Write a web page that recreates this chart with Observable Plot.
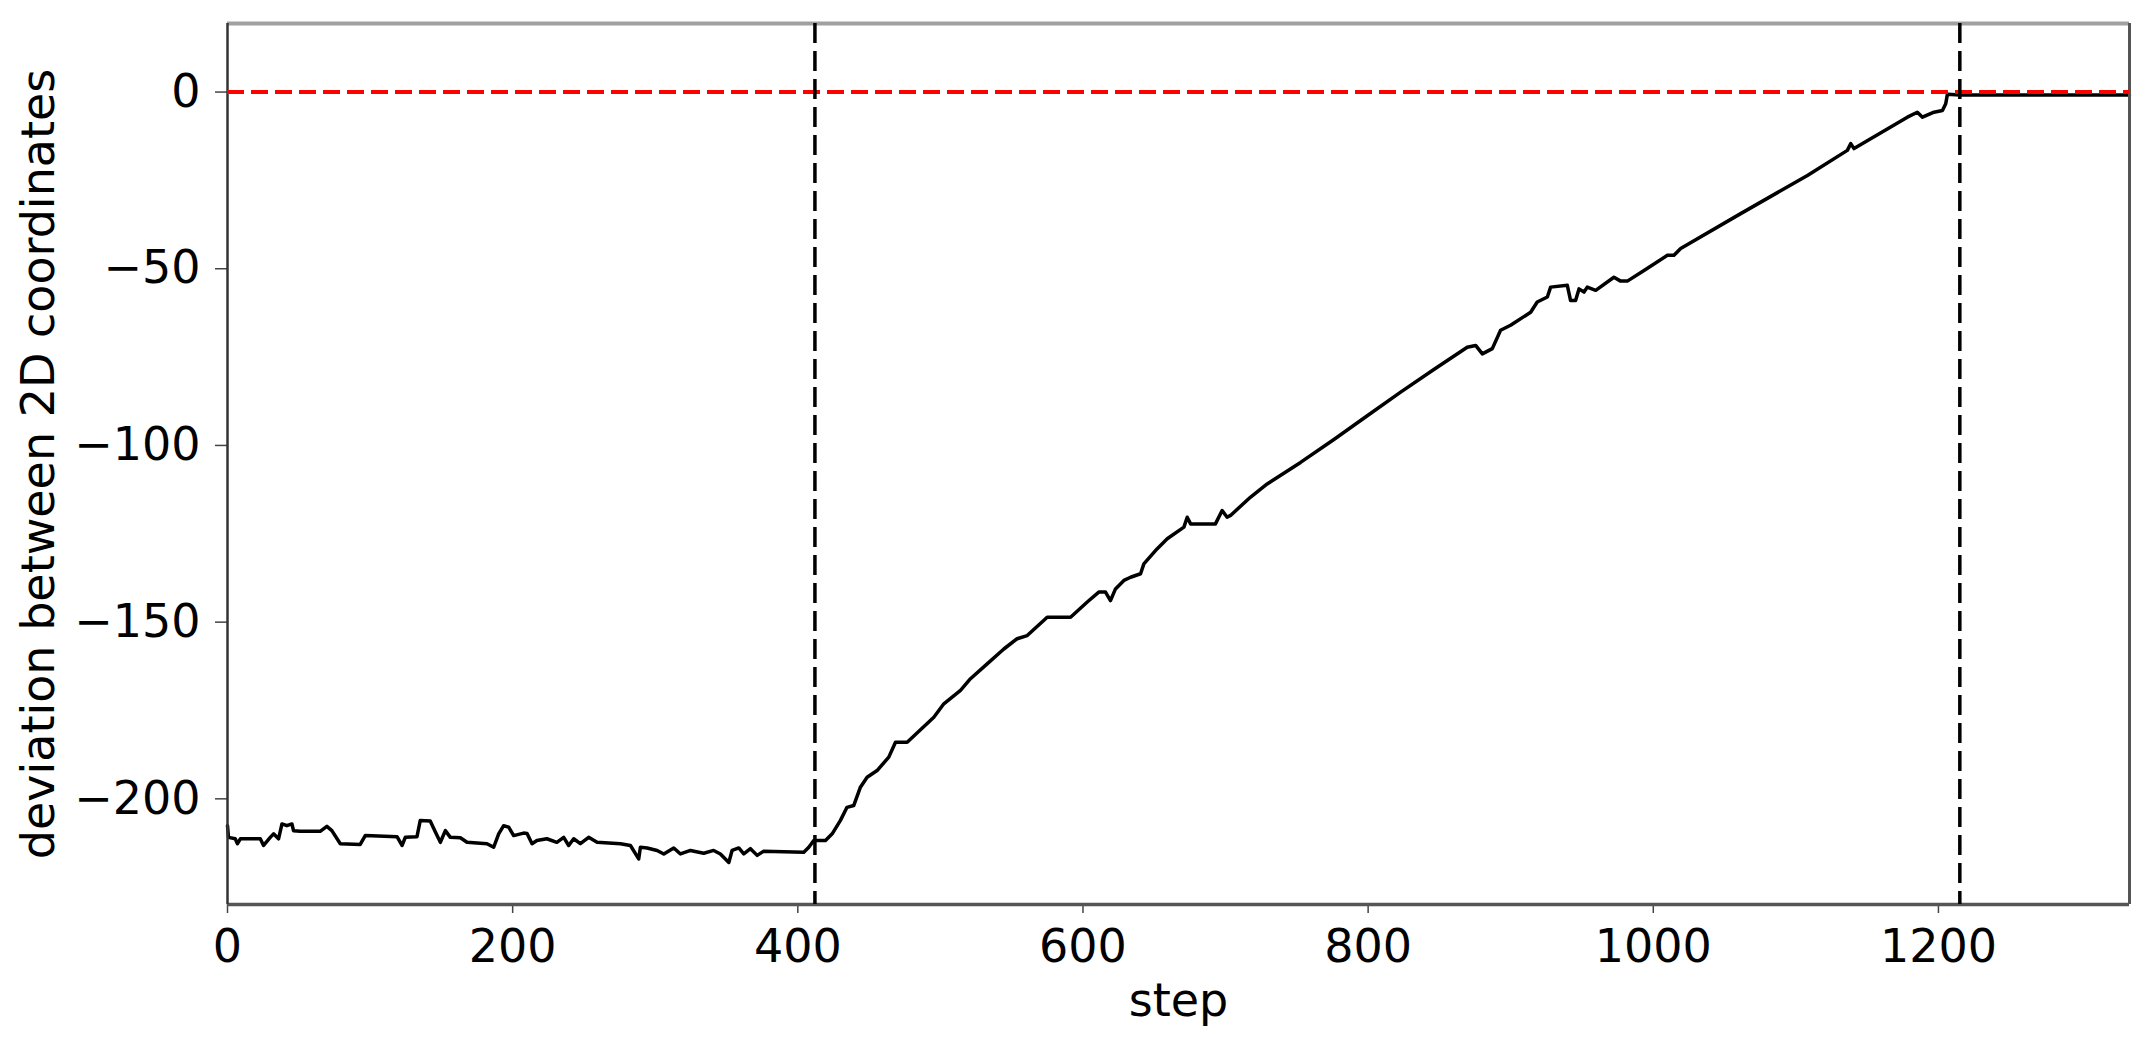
<!DOCTYPE html>
<html><head><meta charset="utf-8">
<script src="https://cdn.jsdelivr.net/npm/d3@7"></script>
<script src="https://cdn.jsdelivr.net/npm/@observablehq/plot@0.6"></script>
<style>html,body{margin:0;padding:0;background:#fff;} svg{display:block;}</style>
</head><body><div id="chart"></div>
<script>
const steps = [0,0.7,5.4,7,9,23,25.3,30,32.3,35.8,38.2,41.6,45.2,46.3,51,65,69.7,73.2,79.1,93.1,96.6,118.9,122.4,124.7,132.9,135.2,142.2,145.8,149.3,152.8,156.3,163.3,168,182,186.7,190.2,193.7,197.2,200.7,207.7,210.1,213.6,217,224,231,235.8,239.3,242.8,247.5,253.3,259.2,275.6,282.6,288.4,289.6,294.3,301.3,306,313,317.7,324.7,334,341,345.7,351.6,353.9,358.6,362.1,366.8,371.5,376.1,404.2,407.7,411.2,419.4,424.1,429.9,434.5,439.2,443.9,448.6,455.6,463.8,468.5,476.7,495.4,502.4,514.1,521.1,532.8,544.5,553.8,560.9,574.9,591.3,603,611.1,615.8,619.3,622.8,628.7,633.4,640.4,642.7,652.1,659.1,670.8,673.1,675.5,692.9,697.6,701.1,703.5,717.6,729.2,752.6,776,799.4,822.8,846.1,869.5,875.4,880.1,887.1,892.9,899.9,914,918.6,925.7,928,939.7,942,945.5,947.9,951.4,953.7,959.6,972.4,977.1,981.8,993.5,1009.9,1014.5,1019.2,1061.3,1108.1,1136.1,1138.5,1140.8,1178.2,1185.2,1188.8,1196.9,1202.8,1205.1,1206.3,1215,1334];
const deviation = [-207.6,-210.9,-211.3,-212.7,-211.3,-211.3,-213.2,-210.9,-209.9,-211.3,-207.1,-207.6,-207.1,-209,-209.2,-209.2,-207.8,-209,-212.7,-212.9,-210.4,-210.7,-213.2,-210.9,-210.7,-206.1,-206.3,-209.4,-212.3,-209,-210.9,-211,-212.3,-212.7,-213.7,-209.9,-207.6,-208,-210.4,-209.7,-209.8,-212.7,-211.8,-211.3,-212.3,-210.9,-213.2,-211.3,-212.7,-210.9,-212.3,-212.7,-213.2,-217,-213.7,-213.9,-214.6,-215.6,-213.9,-215.6,-214.6,-215.4,-214.6,-215.6,-218,-214.6,-213.9,-215.6,-214.1,-216,-214.8,-215.1,-213.7,-211.8,-211.8,-209.9,-206.1,-202.4,-201.9,-196.7,-193.9,-192,-188.2,-184,-184,-176.9,-173.1,-169.3,-166,-161.8,-157.6,-154.7,-153.8,-148.6,-148.6,-144.3,-141.5,-141.5,-143.9,-140.6,-138.2,-137.3,-136.3,-133.5,-129.2,-126.4,-123.1,-120.3,-122.2,-122.2,-118.4,-120.3,-119.8,-114.6,-110.9,-104.8,-98.3,-91.6,-84.9,-78.5,-72.2,-71.7,-74.1,-72.6,-67.4,-66,-62.3,-59.4,-58,-55.2,-54.7,-59,-59,-55.7,-56.6,-55.2,-56.1,-52.4,-53.5,-53.5,-50.5,-46.2,-46.2,-44.3,-34.4,-23.6,-16.5,-14.6,-16,-7.1,-5.7,-7.1,-5.7,-5.2,-3.3,-0.6,-0.8,-0.8];
const markerSteps = [412, 1215];
const referenceLevel = [0];
const xTicks = [0, 200, 400, 600, 800, 1000, 1200];
const yTicks = [0, -50, -100, -150, -200];
const xLabel = "step";
const yLabel = "deviation between 2D coordinates";
const xDomain = [0, 1334];
const yDomain = [-229.9, 19.4];

const data = steps.map((s, i) => ({step: s, dev: deviation[i]}));
const fmt = d => d < 0 ? "\u2212" + Math.abs(d) : String(d);

const chart = Plot.plot({
  width: 2150, height: 1038,
  marginLeft: 227, marginRight: 21, marginTop: 23, marginBottom: 134,
  style: {fontFamily: "DejaVu Sans", fontSize: "46px", color: "#000", background: "#fff", overflow: "visible"},
  x: {domain: xDomain},
  y: {domain: yDomain},
  marks: [
    Plot.axisX({ticks: xTicks, tickSize: 9, tickPadding: 16, tickFormat: fmt, label: null, stroke: "#444", strokeWidth: 1.5, fontSize: 46}),
    Plot.axisY({ticks: yTicks, tickSize: 12, tickPadding: 15, tickFormat: fmt, label: null, stroke: "#444", strokeWidth: 1.5, fontSize: 46}),
    Plot.line(data, {x: "step", y: "dev", stroke: "#000", strokeWidth: 3.5}),
    Plot.ruleY([yDomain[1]], {stroke: "#a0a0a0", strokeWidth: 4}),
    Plot.ruleY([yDomain[0]], {stroke: "#555", strokeWidth: 3.5}),
    Plot.ruleX([xDomain[0]], {stroke: "#333", strokeWidth: 2.5}),
    Plot.ruleX([xDomain[1]], {stroke: "#555", strokeWidth: 3}),
    Plot.ruleY(referenceLevel, {stroke: "#ff0000", strokeWidth: 4, strokeDasharray: "17,7"}),
    Plot.ruleX(markerSteps, {stroke: "#000", strokeWidth: 3.5, strokeDasharray: "20,8"}),
    Plot.text([xLabel], {text: d => d, frameAnchor: "bottom", lineAnchor: "middle", textAnchor: "middle", dy: 97, fontSize: 46, fill: "#000"}),
    Plot.text([yLabel], {text: d => d, frameAnchor: "left", lineAnchor: "middle", textAnchor: "middle", dx: -188.7, rotate: -90, fontSize: 46, fill: "#000"})
  ]
});
document.getElementById("chart").appendChild(chart);
</script>
</body></html>
